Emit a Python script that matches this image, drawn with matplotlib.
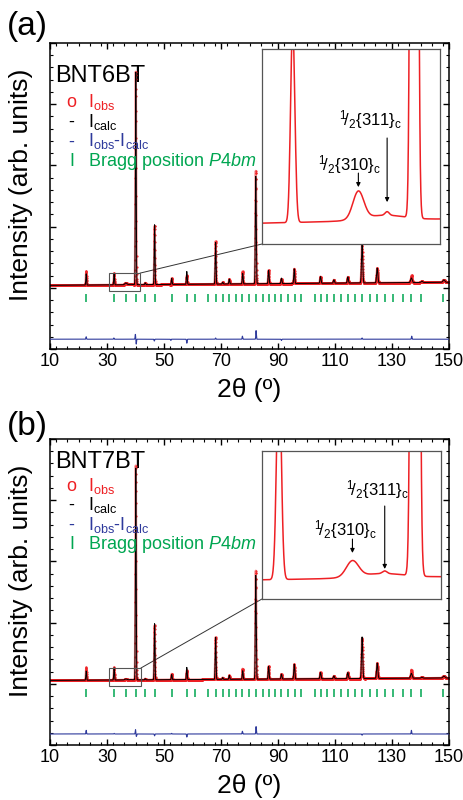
import numpy as np
import matplotlib
matplotlib.use("Agg")
import matplotlib.pyplot as plt
from matplotlib.patches import Rectangle, ConnectionPatch
from matplotlib.ticker import MultipleLocator

plt.rcParams['font.family'] = ['Liberation Sans', 'DejaVu Sans']
plt.rcParams['mathtext.fontset'] = 'custom'
plt.rcParams['mathtext.rm'] = 'Liberation Sans'
plt.rcParams['mathtext.it'] = 'Liberation Sans:italic'
plt.rcParams['mathtext.bf'] = 'Liberation Sans:bold'

# ---------------- data ----------------
two_theta_step = 0.03
two_theta_min, two_theta_max = 10.0, 150.0

# Bragg reflection positions (P4bm)
bragg_pos = [22.75, 32.46, 36.55, 40.06, 43.45, 46.73, 52.81, 58.07, 60.76, 65.56,
             68.13, 70.59, 72.93, 75.26, 77.49, 79.94, 82.28, 84.62, 86.73, 89.07,
             91.17, 93.51, 95.85, 98.19, 102.87, 104.97, 107.31, 109.65, 112.22, 114.56,
             117.14, 119.47, 122.28, 124.86, 127.54, 130.47, 133.98, 136.78, 140.18, 148.01]

# calculated peak positions (2theta) shared by both samples
peak_pos = [22.7, 32.5, 40.1, 43.4, 46.7, 52.7, 58.0, 68.1, 70.6, 72.9, 77.6, 82.2,
            86.7, 91.2, 95.7, 104.9, 109.6, 114.5, 119.5, 124.8, 136.8, 140.5, 148.2]
# calculated peak heights above background
peak_amp_a = [0.185, 0.18, 3.48, 0.03, 0.98, 0.10, 0.21, 0.68, 0.03, 0.08, 0.17, 1.76,
              0.22, 0.09, 0.24, 0.11, 0.055, 0.10, 0.65, 0.24, 0.075, 0.02, 0.04]
peak_amp_b = [0.15, 0.20, 3.47, 0.02, 0.92, 0.085, 0.20, 0.69, 0.03, 0.065, 0.14, 1.70,
              0.21, 0.08, 0.24, 0.105, 0.045, 0.10, 0.68, 0.25, 0.08, 0.015, 0.03]

# superlattice (1/2{310}c, 1/2{311}c) and diffuse contributions
super_pos = [36.6, 38.4, 38.2]
super_fwhm = [0.8, 0.3, 3.0]
super_amp_a = [0.027, 0.0035, 0.005]
super_amp_b = [0.015, 0.0025, 0.004]

# background level at 10 deg and 150 deg
bg_a = [0.04, 0.09]
bg_b = [0.055, 0.095]

# observed - calculated residual features
resid_pos_a = [22.7, 32.4, 39.95, 40.25, 46.6, 52.4, 58.0, 68.1, 77.5, 82.3, 91.2, 119.5, 136.9]
resid_amp_a = [0.04, 0.02, 0.08, -0.08, -0.03, -0.02, -0.065, 0.02, 0.05, 0.14, -0.02, 0.02, 0.05]
resid_pos_b = [22.7, 32.5, 40.0, 40.3, 46.7, 52.7, 58.0, 77.5, 82.3, 119.5, 136.8]
resid_amp_b = [0.06, 0.01, 0.07, -0.04, -0.03, 0.01, -0.05, 0.045, 0.12, -0.02, 0.06]

# instrumental resolution (Caglioti U, V, W)
cag_U, cag_V, cag_W = 0.05, 0.0, 0.09

x_ticks = [10, 30, 50, 70, 90, 110, 130, 150]
sample_names = ['BNT6BT', 'BNT7BT']
panel_labels = ['(a)', '(b)']

# ---------------- build profiles ----------------
tt = np.arange(two_theta_min, two_theta_max + 1e-9, two_theta_step)


def gauss(x, pos, fwhm):
    return np.exp(-4 * np.log(2) * ((x - pos) / fwhm) ** 2)


def resolution(pos):
    th = np.radians(pos / 2.0)
    return np.sqrt(cag_U * np.tan(th) ** 2 + cag_V * np.tan(th) + cag_W)


def profiles(amps, samps, bg, rpos, ramp):
    calc = bg[0] + (bg[1] - bg[0]) * (tt - two_theta_min) / (two_theta_max - two_theta_min)
    for p, a in zip(peak_pos, amps):
        calc = calc + a * gauss(tt, p, resolution(p))
    for p, w, a in zip(super_pos, super_fwhm, samps):
        calc = calc + a * gauss(tt, p, w)
    resid = np.zeros_like(tt)
    for p, a in zip(rpos, ramp):
        resid = resid + a * gauss(tt, p, 0.22)
    return calc + resid, calc, resid


obs_a, calc_a, res_a = profiles(peak_amp_a, super_amp_a, bg_a, resid_pos_a, resid_amp_a)
obs_b, calc_b, res_b = profiles(peak_amp_b, super_amp_b, bg_b, resid_pos_b, resid_amp_b)

RED = '#EE2024'
BLUE = '#2E3A9C'
GREEN = '#00A651'
FS_LEG = 13

fig = plt.figure(figsize=(4.63, 8.0), dpi=100)

panels = [
    dict(obs=obs_a, calc=calc_a, res=res_a, diff_off=-0.84, tick_y=-0.165,
         box=(30.7, -0.052, 41.6, 0.24), ins_pos=[0.531, 0.343, 0.446, 0.637],
         ins_x=(30.56, 41.7), ins_y=(0.027, 0.217),
         ann310=(0.494, 0.379, 0.364, 0.292), ann311=(0.612, 0.610, 0.544, 0.215),
         title_y=0.8725, rows=[0.791, 0.727, 0.662, 0.598], rect=[0.108, 0.56375, 0.8618, 0.3825],
         lab_y=1 - 35 / 800),
    dict(obs=obs_b, calc=calc_b, res=res_b, diff_off=-0.82, tick_y=-0.15,
         box=(30.7, -0.036, 41.9, 0.258), ins_pos=[0.531, 0.477, 0.449, 0.484],
         ins_x=(31.55, 41.54), ins_y=(0.043, 0.183),
         ann310=(0.464, 0.432, 0.405, 0.311), ann311=(0.648, 0.703, 0.628, 0.203),
         title_y=0.905, rows=[0.830, 0.767, 0.704, 0.641], rect=[0.108, 0.06875, 0.8618, 0.3825],
         lab_y=1 - 435 / 800),
]

for i, P in enumerate(panels):
    ax = fig.add_axes(P['rect'])
    ax.plot(tt, P['obs'], color=RED, lw=1.6, alpha=0.55, zorder=2)
    ax.plot(tt, P['obs'], ls='none', marker='o', ms=1.6, mew=0, color=RED, alpha=0.9, zorder=2)
    ax.plot(tt, P['calc'], color='k', lw=0.7, zorder=3)
    ax.plot(tt, P['diff_off'] + P['res'], color=BLUE, lw=0.8, zorder=3)
    ax.plot(bragg_pos, np.full(len(bragg_pos), P['tick_y']), ls='none', marker='|',
            ms=6, mew=1.1, color=GREEN, zorder=3)

    ax.set_xlim(two_theta_min, two_theta_max)
    ax.set_ylim(-1, 4)
    ax.set_xticks(x_ticks)
    ax.xaxis.set_minor_locator(MultipleLocator(4))
    ax.yaxis.set_major_locator(MultipleLocator(1))
    ax.yaxis.set_minor_locator(MultipleLocator(0.2))
    ax.tick_params(which='both', direction='in', top=True, right=True, labelleft=False)
    ax.tick_params(which='major', length=4.5, width=1.0, labelsize=13, pad=3)
    ax.tick_params(which='minor', length=2.5, width=0.8)
    for s in ax.spines.values():
        s.set_linewidth(1.1)
    ax.set_xlabel('2θ (º)', fontsize=19, labelpad=6)
    ax.set_ylabel('Intensity (arb. units)', fontsize=19)
    ax.yaxis.set_label_coords(-0.043, 0.535)

    # legend made of text
    ax.text(0.0125, P['title_y'], sample_names[i], transform=ax.transAxes,
            fontsize=17, va='baseline', ha='left', zorder=1)
    syms = ['o', '-', '-', 'I']
    cols = [RED, 'k', BLUE, GREEN]
    labs = [r'I$_{\mathrm{obs}}$', r'I$_{\mathrm{calc}}$',
            r'I$_{\mathrm{obs}}$-I$_{\mathrm{calc}}$', r'Bragg position $\mathit{P4bm}$']
    for sy, c, lb, yy in zip(syms, cols, labs, P['rows']):
        ax.text(0.054, yy, sy, transform=ax.transAxes, fontsize=FS_LEG, color=c,
                va='baseline', ha='center')
        ax.text(0.095, yy, lb, transform=ax.transAxes, fontsize=FS_LEG, color=c,
                va='baseline', ha='left')

    # zoom box
    x0, y0, x1, y1 = P['box']
    ax.add_patch(Rectangle((x0, y0), x1 - x0, y1 - y0, fill=False, ec='#555555', lw=0.8, zorder=4))

    # inset
    axi = ax.inset_axes(P['ins_pos'])
    m = (tt >= P['ins_x'][0] - 0.5) & (tt <= P['ins_x'][1] + 0.5)
    axi.plot(tt[m], P['obs'][m], color=RED, lw=1.1)
    axi.set_xlim(*P['ins_x'])
    axi.set_ylim(*P['ins_y'])
    axi.set_xticks([])
    axi.set_yticks([])
    for s in axi.spines.values():
        s.set_color('#555555')
        s.set_linewidth(0.9)
    con = ConnectionPatch(xyA=(x1, y1), coordsA=ax.transData, xyB=(0, 0), coordsB=axi.transAxes,
                          color='#333333', lw=0.7)
    ax.add_artist(con)

    tx, ty, ay0, ay1 = P['ann310']
    axi.text(tx, ty, r'$^{1}\!/_{2}\{310\}_{\mathrm{c}}$', transform=axi.transAxes,
             fontsize=12, ha='center', va='baseline')
    axi.annotate('', xy=(super_pos[0], ay1), xytext=(super_pos[0], ay0),
                 xycoords=('data', 'axes fraction'), textcoords=('data', 'axes fraction'),
                 arrowprops=dict(arrowstyle='-|>', lw=0.8, color='k', mutation_scale=6,
                                 shrinkA=0, shrinkB=0))
    tx, ty, ay0, ay1 = P['ann311']
    axi.text(tx, ty, r'$^{1}\!/_{2}\{311\}_{\mathrm{c}}$', transform=axi.transAxes,
             fontsize=12, ha='center', va='baseline')
    axi.annotate('', xy=(super_pos[1], ay1), xytext=(super_pos[1], ay0),
                 xycoords=('data', 'axes fraction'), textcoords=('data', 'axes fraction'),
                 arrowprops=dict(arrowstyle='-|>', lw=0.8, color='k', mutation_scale=6,
                                 shrinkA=0, shrinkB=0))

    fig.text(7 / 463, P['lab_y'], panel_labels[i], fontsize=24, va='baseline', ha='left')

fig.savefig('out.png', dpi=100)
